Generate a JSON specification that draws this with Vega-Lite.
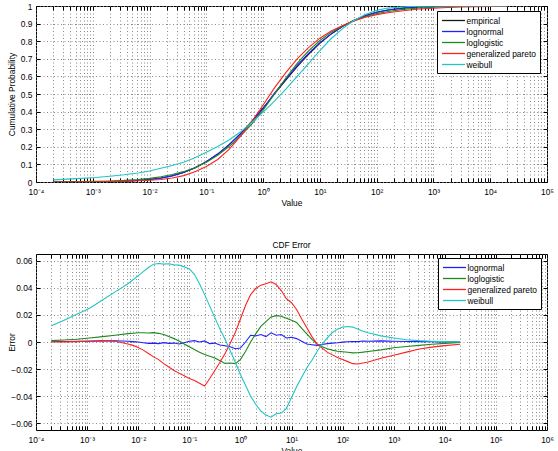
{
  "$schema": "https://vega.github.io/schema/vega-lite/v6.json",
  "padding": {"left": 6, "top": -8, "right": 6, "bottom": 0},
  "spacing": 32,
  "config": {
    "font": "Liberation Sans",
    "view": {"stroke": "#000", "strokeWidth": 1},
    "axis": {"labelFont": "Liberation Sans", "labelFontSize": 8.4, "labelColor": "#000", "titleFont": "Liberation Sans", "titleFontSize": 8.4, "titleFontWeight": "normal", "titleColor": "#000", "domain": false, "tickColor": "#000", "tickSize": -4, "labelPadding": 9, "gridColor": "#8a8a8a", "gridDash": [1, 2.5], "gridWidth": 1},
    "title": {"font": "Liberation Sans", "fontSize": 8.4, "fontWeight": "normal", "color": "#000", "offset": 4},
    "legend": {"orient": "none", "title": null, "strokeColor": "#000", "fillColor": "#fff", "padding": 3.5, "symbolType": "M-2.3,0L2.3,0", "symbolSize": 100, "symbolOffset": 7, "symbolStrokeWidth": 1.3, "labelFont": "Liberation Sans", "labelFontSize": 8.4, "labelColor": "#000", "rowPadding": -0.6, "labelOffset": 7}
  },
  "datasets": {
    "cdf": [
      {"x": 1.995e-4, "emp": 0.0001, "ln": 0.0006, "ll": 0.0011, "gp": 0.0001, "wb": 0.0121},
      {"x": 3.548e-4, "emp": 0.0001, "ln": 0.0005, "ll": 0.0016, "gp": 0.0002, "wb": 0.0161},
      {"x": 6.31e-4, "emp": 0.0003, "ln": 0.0008, "ll": 0.0023, "gp": 0.0006, "wb": 0.0208},
      {"x": 1.122e-3, "emp": 0.0008, "ln": 0.0014, "ll": 0.0038, "gp": 0.0015, "wb": 0.0258},
      {"x": 1.995e-3, "emp": 0.0019, "ln": 0.0027, "ll": 0.0059, "gp": 0.0029, "wb": 0.0329},
      {"x": 3.548e-3, "emp": 0.004, "ln": 0.0049, "ll": 0.009, "gp": 0.0045, "wb": 0.041},
      {"x": 6.31e-3, "emp": 0.0082, "ln": 0.0087, "ll": 0.0144, "gp": 0.0067, "wb": 0.0512},
      {"x": 0.01, "emp": 0.0139, "ln": 0.0139, "ll": 0.0207, "gp": 0.0099, "wb": 0.0629},
      {"x": 0.015849, "emp": 0.0228, "ln": 0.0218, "ll": 0.0294, "gp": 0.0143, "wb": 0.0778},
      {"x": 0.025119, "emp": 0.0359, "ln": 0.0347, "ll": 0.0423, "gp": 0.0229, "wb": 0.0939},
      {"x": 0.039811, "emp": 0.0548, "ln": 0.0538, "ll": 0.0588, "gp": 0.0363, "wb": 0.1126},
      {"x": 0.063096, "emp": 0.0808, "ln": 0.0793, "ll": 0.0815, "gp": 0.0578, "wb": 0.1376},
      {"x": 0.1, "emp": 0.1151, "ln": 0.1156, "ll": 0.1116, "gp": 0.0881, "wb": 0.1691},
      {"x": 0.15849, "emp": 0.1587, "ln": 0.1587, "ll": 0.1512, "gp": 0.1282, "wb": 0.2017},
      {"x": 0.25119, "emp": 0.2119, "ln": 0.2107, "ll": 0.2014, "gp": 0.1849, "wb": 0.2384},
      {"x": 0.39811, "emp": 0.2743, "ln": 0.2721, "ll": 0.2605, "gp": 0.2593, "wb": 0.2838},
      {"x": 0.63096, "emp": 0.3446, "ln": 0.3411, "ll": 0.3291, "gp": 0.3436, "wb": 0.3381},
      {"x": 1, "emp": 0.4207, "ln": 0.4162, "ll": 0.4077, "gp": 0.4377, "wb": 0.3967},
      {"x": 1.5849, "emp": 0.5, "ln": 0.505, "ll": 0.5, "gp": 0.535, "wb": 0.46},
      {"x": 2.5119, "emp": 0.5793, "ln": 0.5848, "ll": 0.5908, "gp": 0.6213, "wb": 0.5283},
      {"x": 3.9811, "emp": 0.6554, "ln": 0.6622, "ll": 0.6739, "gp": 0.6999, "wb": 0.5999},
      {"x": 6.3096, "emp": 0.7257, "ln": 0.7312, "ll": 0.7447, "gp": 0.7637, "wb": 0.6732},
      {"x": 10, "emp": 0.7881, "ln": 0.7916, "ll": 0.8041, "gp": 0.8171, "wb": 0.7471},
      {"x": 15.849, "emp": 0.8413, "ln": 0.8418, "ll": 0.8513, "gp": 0.8583, "wb": 0.8153},
      {"x": 25.119, "emp": 0.8849, "ln": 0.8829, "ll": 0.8869, "gp": 0.8889, "wb": 0.8714},
      {"x": 39.811, "emp": 0.9192, "ln": 0.9174, "ll": 0.9157, "gp": 0.9147, "wb": 0.9177},
      {"x": 63.096, "emp": 0.9452, "ln": 0.9444, "ll": 0.9392, "gp": 0.9357, "wb": 0.9522},
      {"x": 100, "emp": 0.9641, "ln": 0.964, "ll": 0.9569, "gp": 0.9511, "wb": 0.9751},
      {"x": 158.49, "emp": 0.9772, "ln": 0.9776, "ll": 0.9692, "gp": 0.9612, "wb": 0.9882},
      {"x": 316.23, "emp": 0.9893, "ln": 0.9899, "ll": 0.9823, "gp": 0.9745, "wb": 0.9961},
      {"x": 562.34, "emp": 0.9946, "ln": 0.9954, "ll": 0.9888, "gp": 0.9826, "wb": 0.9991},
      {"x": 1000, "emp": 0.9974, "ln": 0.998, "ll": 0.9932, "gp": 0.9876, "wb": 0.9999},
      {"x": 1778.3, "emp": 0.9989, "ln": 0.9993, "ll": 0.9956, "gp": 0.9914, "wb": 1.0},
      {"x": 3162.3, "emp": 0.9995, "ln": 0.9998, "ll": 0.997, "gp": 0.9943, "wb": 1.0},
      {"x": 5623.4, "emp": 0.9998, "ln": 1.0, "ll": 0.9981, "gp": 0.996, "wb": 1.0},
      {"x": 10000, "emp": 0.9999, "ln": 1.0, "ll": 0.9989, "gp": 0.9972, "wb": 1.0},
      {"x": 19953, "emp": 1.0, "ln": 1.0, "ll": 0.9997, "gp": 0.9983, "wb": 1.0}
    ],
    "err": [
      {"x": 1.995e-4, "ln": 0.0005, "ll": 0.001, "gp": 0.0, "wb": 0.012},
      {"x": 3.548e-4, "ln": 0.0004, "ll": 0.0015, "gp": 0.0001, "wb": 0.016},
      {"x": 6.31e-4, "ln": 0.0005, "ll": 0.002, "gp": 0.0003, "wb": 0.0205},
      {"x": 1.122e-3, "ln": 0.0006, "ll": 0.003, "gp": 0.0007, "wb": 0.025},
      {"x": 1.995e-3, "ln": 0.0008, "ll": 0.004, "gp": 0.001, "wb": 0.031},
      {"x": 3.548e-3, "ln": 0.0009, "ll": 0.005, "gp": 0.0005, "wb": 0.037},
      {"x": 6.31e-3, "ln": 0.0005, "ll": 0.0062, "gp": -0.0015, "wb": 0.043},
      {"x": 7.943e-3, "ln": 0.0003, "ll": 0.0065, "gp": -0.0025, "wb": 0.046},
      {"x": 0.01, "ln": 0.0, "ll": 0.0068, "gp": -0.004, "wb": 0.049},
      {"x": 0.012589, "ln": -0.0005, "ll": 0.0068, "gp": -0.006, "wb": 0.052},
      {"x": 0.015849, "ln": -0.001, "ll": 0.0066, "gp": -0.0085, "wb": 0.055},
      {"x": 0.019953, "ln": -0.0008, "ll": 0.0069, "gp": -0.011, "wb": 0.0575},
      {"x": 0.025119, "ln": -0.0012, "ll": 0.0064, "gp": -0.013, "wb": 0.058},
      {"x": 0.031623, "ln": -0.0005, "ll": 0.0056, "gp": -0.016, "wb": 0.0575},
      {"x": 0.039811, "ln": -0.001, "ll": 0.004, "gp": -0.0185, "wb": 0.0578},
      {"x": 0.050119, "ln": -0.0008, "ll": 0.0025, "gp": -0.021, "wb": 0.057},
      {"x": 0.063096, "ln": -0.0015, "ll": 0.0007, "gp": -0.023, "wb": 0.0568},
      {"x": 0.079433, "ln": -0.0005, "ll": -0.0015, "gp": -0.025, "wb": 0.0555},
      {"x": 0.1, "ln": 0.0005, "ll": -0.0035, "gp": -0.027, "wb": 0.054},
      {"x": 0.12589, "ln": 0.001, "ll": -0.0055, "gp": -0.0285, "wb": 0.05},
      {"x": 0.15849, "ln": 0.0, "ll": -0.0075, "gp": -0.0305, "wb": 0.043},
      {"x": 0.19953, "ln": 0.0008, "ll": -0.0092, "gp": -0.0325, "wb": 0.035},
      {"x": 0.25119, "ln": -0.0012, "ll": -0.0105, "gp": -0.027, "wb": 0.0265},
      {"x": 0.31623, "ln": -0.0008, "ll": -0.0118, "gp": -0.021, "wb": 0.018},
      {"x": 0.39811, "ln": -0.0022, "ll": -0.0138, "gp": -0.015, "wb": 0.0095},
      {"x": 0.50119, "ln": -0.0028, "ll": -0.0158, "gp": -0.0085, "wb": 0.002},
      {"x": 0.63096, "ln": -0.0035, "ll": -0.0155, "gp": -0.001, "wb": -0.0065},
      {"x": 0.79433, "ln": -0.005, "ll": -0.016, "gp": 0.007, "wb": -0.015},
      {"x": 1, "ln": -0.0045, "ll": -0.013, "gp": 0.017, "wb": -0.024},
      {"x": 1.2589, "ln": 0.0, "ll": -0.007, "gp": 0.027, "wb": -0.032},
      {"x": 1.5849, "ln": 0.005, "ll": 0.0, "gp": 0.035, "wb": -0.04},
      {"x": 1.9953, "ln": 0.0045, "ll": 0.006, "gp": 0.0395, "wb": -0.046},
      {"x": 2.5119, "ln": 0.0055, "ll": 0.0115, "gp": 0.042, "wb": -0.051},
      {"x": 3.1623, "ln": 0.004, "ll": 0.015, "gp": 0.043, "wb": -0.054},
      {"x": 3.9811, "ln": 0.0068, "ll": 0.0185, "gp": 0.0445, "wb": -0.0555},
      {"x": 5.0119, "ln": 0.005, "ll": 0.0195, "gp": 0.0425, "wb": -0.053},
      {"x": 6.3096, "ln": 0.0055, "ll": 0.019, "gp": 0.038, "wb": -0.0525},
      {"x": 7.9433, "ln": 0.003, "ll": 0.0175, "gp": 0.032, "wb": -0.049},
      {"x": 10, "ln": 0.0035, "ll": 0.016, "gp": 0.029, "wb": -0.041},
      {"x": 12.589, "ln": 0.0025, "ll": 0.0145, "gp": 0.024, "wb": -0.033},
      {"x": 15.849, "ln": 0.0005, "ll": 0.01, "gp": 0.017, "wb": -0.026},
      {"x": 19.953, "ln": -0.0015, "ll": 0.006, "gp": 0.0105, "wb": -0.019},
      {"x": 25.119, "ln": -0.002, "ll": 0.002, "gp": 0.004, "wb": -0.0135},
      {"x": 31.623, "ln": -0.0025, "ll": -0.0015, "gp": -0.0015, "wb": -0.007},
      {"x": 39.811, "ln": -0.0018, "ll": -0.0035, "gp": -0.0045, "wb": -0.0015},
      {"x": 50.119, "ln": -0.0012, "ll": -0.005, "gp": -0.0075, "wb": 0.003},
      {"x": 63.096, "ln": -0.0008, "ll": -0.006, "gp": -0.0095, "wb": 0.007},
      {"x": 79.433, "ln": -0.0005, "ll": -0.0068, "gp": -0.0115, "wb": 0.0095},
      {"x": 100, "ln": -0.0001, "ll": -0.0072, "gp": -0.013, "wb": 0.011},
      {"x": 125.89, "ln": 0.0002, "ll": -0.0076, "gp": -0.0145, "wb": 0.0115},
      {"x": 158.49, "ln": 0.0004, "ll": -0.008, "gp": -0.016, "wb": 0.011},
      {"x": 199.53, "ln": 0.0003, "ll": -0.0079, "gp": -0.0162, "wb": 0.0095},
      {"x": 251.19, "ln": 0.0007, "ll": -0.0075, "gp": -0.0155, "wb": 0.008},
      {"x": 316.23, "ln": 0.0006, "ll": -0.007, "gp": -0.0148, "wb": 0.0068},
      {"x": 562.34, "ln": 0.0008, "ll": -0.0058, "gp": -0.012, "wb": 0.0045},
      {"x": 1000, "ln": 0.0006, "ll": -0.0042, "gp": -0.0098, "wb": 0.003},
      {"x": 1778.3, "ln": 0.0004, "ll": -0.0033, "gp": -0.0075, "wb": 0.0017},
      {"x": 3162.3, "ln": 0.0003, "ll": -0.0025, "gp": -0.0052, "wb": 0.001},
      {"x": 5623.4, "ln": 0.0002, "ll": -0.0017, "gp": -0.0038, "wb": 0.0006},
      {"x": 10000, "ln": 0.0001, "ll": -0.001, "gp": -0.0027, "wb": 0.0003},
      {"x": 19953, "ln": 0.0, "ll": -0.0003, "gp": -0.0017, "wb": 0.0}
    ]
  },
  "resolve": {"scale": {"color": "independent"}, "legend": {"color": "independent"}},
  "vconcat": [
    {
      "width": 511,
      "height": 176,
      "title": {"text": "Cumulative Distribution Function", "offset": 1},
      "data": {"name": "cdf"},
      "transform": [{"fold": ["emp", "ln", "ll", "gp", "wb"], "as": ["key", "value"]}],
      "resolve": {"axis": {"x": "independent", "y": "independent"}},
      "layer": [
        {
          "mark": {"type": "line", "strokeWidth": 1.1, "clip": true},
          "encoding": {
            "x": {
              "field": "x", "type": "quantitative",
              "scale": {"type": "log", "domain": [0.0001, 100000], "nice": false},
              "axis": {
                "title": "Value", "titlePadding": 3, "labelOverlap": false, "labelFlush": false,
                "values": [0.0001,0.0002,0.0003,0.0004,0.0005,0.0006,0.0007,0.0008,0.0009,0.001,0.002,0.003,0.004,0.005,0.006,0.007,0.008,0.009,0.01,0.02,0.03,0.04,0.05,0.06,0.07,0.08,0.09,0.1,0.2,0.3,0.4,0.5,0.6,0.7,0.8,0.9,1,2,3,4,5,6,7,8,9,10,20,30,40,50,60,70,80,90,100,200,300,400,500,600,700,800,900,1000,2000,3000,4000,5000,6000,7000,8000,9000,10000,20000,30000,40000,50000,60000,70000,80000,90000,100000],
                "labelExpr": "abs(log(datum.value)/LN10 - round(log(datum.value)/LN10)) < 0.001 ? '10' + (round(log(datum.value)/LN10) < 0 ? '⁻' : '') + substring('⁰¹²³⁴⁵⁶⁷⁸⁹', abs(round(log(datum.value)/LN10)), abs(round(log(datum.value)/LN10)) + 1) : ''"
              }
            },
            "y": {
              "field": "value", "type": "quantitative",
              "scale": {"domain": [0, 1], "nice": false},
              "axis": {"title": "Cumulative Probability", "values": [0,0.1,0.2,0.3,0.4,0.5,0.6,0.7,0.8,0.9,1], "format": ".1~f", "labelPadding": 8, "titleX": -20, "titleY": 88}
            },
            "color": {
              "field": "key", "type": "nominal",
              "scale": {"domain": ["emp", "ln", "ll", "gp", "wb"], "range": ["#1a1a1a", "#1f1fff", "#1a8a1a", "#ff2020", "#22c4c4"]},
              "legend": {"legendX": 401, "legendY": 5, "labelExpr": "datum.label == 'emp' ? 'empirical' : datum.label == 'ln' ? 'lognormal' : datum.label == 'll' ? 'loglogistic' : datum.label == 'gp' ? 'generalized pareto' : 'weibull'"}
            }
          }
        },
        {
          "mark": {"type": "point", "opacity": 0, "clip": true},
          "encoding": {
            "x": {
              "field": "x", "type": "quantitative",
              "axis": {"orient": "top", "title": null, "labels": false, "grid": false, "minExtent": 0, "values": [0.0001,0.0002,0.0003,0.0004,0.0005,0.0006,0.0007,0.0008,0.0009,0.001,0.002,0.003,0.004,0.005,0.006,0.007,0.008,0.009,0.01,0.02,0.03,0.04,0.05,0.06,0.07,0.08,0.09,0.1,0.2,0.3,0.4,0.5,0.6,0.7,0.8,0.9,1,2,3,4,5,6,7,8,9,10,20,30,40,50,60,70,80,90,100,200,300,400,500,600,700,800,900,1000,2000,3000,4000,5000,6000,7000,8000,9000,10000,20000,30000,40000,50000,60000,70000,80000,90000,100000]}
            },
            "y": {
              "field": "value", "type": "quantitative",
              "axis": {"orient": "right", "title": null, "labels": false, "grid": false, "minExtent": 0, "values": [0,0.1,0.2,0.3,0.4,0.5,0.6,0.7,0.8,0.9,1]}
            }
          }
        }
      ]
    },
    {
      "width": 511,
      "height": 176,
      "title": "CDF Error",
      "data": {"name": "err"},
      "transform": [{"fold": ["ln", "ll", "gp", "wb"], "as": ["key", "value"]}],
      "resolve": {"axis": {"x": "independent", "y": "independent"}},
      "layer": [
        {
          "mark": {"type": "line", "strokeWidth": 1.1, "clip": true},
          "encoding": {
            "x": {
              "field": "x", "type": "quantitative",
              "scale": {"type": "log", "domain": [0.0001, 1000000], "nice": false},
              "axis": {
                "title": "Value", "titlePadding": 3, "labelOverlap": false, "labelFlush": false,
                "values": [0.0001,0.0002,0.0003,0.0004,0.0005,0.0006,0.0007,0.0008,0.0009,0.001,0.002,0.003,0.004,0.005,0.006,0.007,0.008,0.009,0.01,0.02,0.03,0.04,0.05,0.06,0.07,0.08,0.09,0.1,0.2,0.3,0.4,0.5,0.6,0.7,0.8,0.9,1,2,3,4,5,6,7,8,9,10,20,30,40,50,60,70,80,90,100,200,300,400,500,600,700,800,900,1000,2000,3000,4000,5000,6000,7000,8000,9000,10000,20000,30000,40000,50000,60000,70000,80000,90000,100000,200000,300000,400000,500000,600000,700000,800000,900000,1000000],
                "labelExpr": "abs(log(datum.value)/LN10 - round(log(datum.value)/LN10)) < 0.001 ? '10' + (round(log(datum.value)/LN10) < 0 ? '⁻' : '') + substring('⁰¹²³⁴⁵⁶⁷⁸⁹', abs(round(log(datum.value)/LN10)), abs(round(log(datum.value)/LN10)) + 1) : ''"
              }
            },
            "y": {
              "field": "value", "type": "quantitative",
              "scale": {"domain": [-0.065, 0.065], "nice": false},
              "axis": {"title": "Error", "values": [-0.06,-0.04,-0.02,0,0.02,0.04,0.06], "labelExpr": "datum.value == 0 ? '0' : format(datum.value, '.2f')", "labelPadding": 8, "titleX": -20, "titleY": 88}
            },
            "color": {
              "field": "key", "type": "nominal",
              "scale": {"domain": ["ln", "ll", "gp", "wb"], "range": ["#1f1fff", "#1a8a1a", "#ff2020", "#22c4c4"]},
              "legend": {"legendX": 402, "legendY": 4, "labelExpr": "datum.label == 'ln' ? 'lognormal' : datum.label == 'll' ? 'loglogistic' : datum.label == 'gp' ? 'generalized pareto' : 'weibull'"}
            }
          }
        },
        {
          "mark": {"type": "point", "opacity": 0, "clip": true},
          "encoding": {
            "x": {
              "field": "x", "type": "quantitative",
              "axis": {"orient": "top", "title": null, "labels": false, "grid": false, "minExtent": 0, "values": [0.0001,0.0002,0.0003,0.0004,0.0005,0.0006,0.0007,0.0008,0.0009,0.001,0.002,0.003,0.004,0.005,0.006,0.007,0.008,0.009,0.01,0.02,0.03,0.04,0.05,0.06,0.07,0.08,0.09,0.1,0.2,0.3,0.4,0.5,0.6,0.7,0.8,0.9,1,2,3,4,5,6,7,8,9,10,20,30,40,50,60,70,80,90,100,200,300,400,500,600,700,800,900,1000,2000,3000,4000,5000,6000,7000,8000,9000,10000,20000,30000,40000,50000,60000,70000,80000,90000,100000,200000,300000,400000,500000,600000,700000,800000,900000,1000000]}
            },
            "y": {
              "field": "value", "type": "quantitative",
              "axis": {"orient": "right", "title": null, "labels": false, "grid": false, "minExtent": 0, "values": [-0.06,-0.04,-0.02,0,0.02,0.04,0.06]}
            }
          }
        }
      ]
    }
  ]
}
